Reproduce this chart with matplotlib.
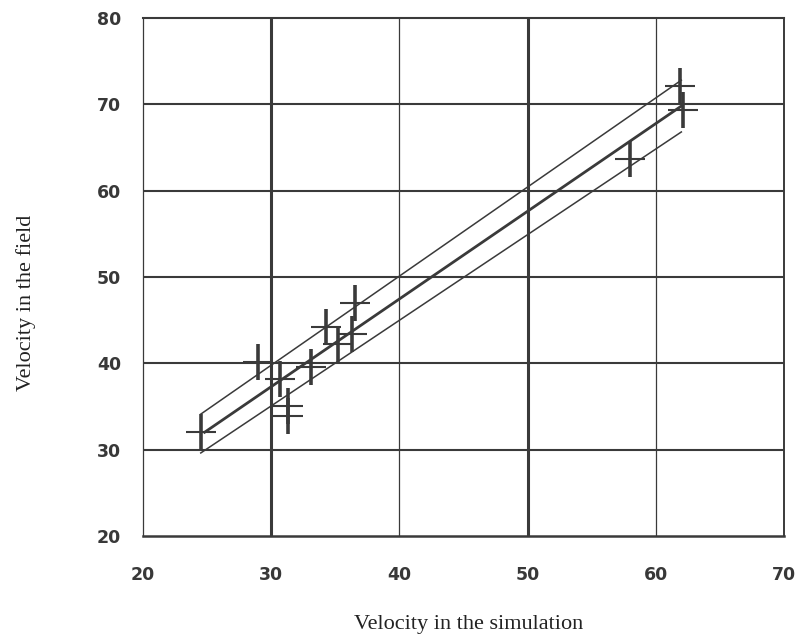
"""Field velocity vs simulated velocity, with fitted line and band."""

import matplotlib
matplotlib.use("Agg")
import matplotlib.pyplot as plt

# measured points (simulation, field)
sim_vel = [24.5, 29.0, 30.7, 31.3, 31.3, 33.1, 34.3, 35.2, 36.3, 36.5, 58.0, 61.9, 62.1]
field_vel = [32.0, 40.1, 38.2, 35.1, 33.9, 39.6, 44.2, 42.2, 43.4, 47.0, 63.7, 72.1, 69.4]

# regression line and its band (end points)
fit_x = [24.8, 62.0]
fit_y = [32.0, 69.8]
upper_x = [24.5, 62.0]
upper_y = [34.1, 72.8]
lower_x = [24.5, 62.0]
lower_y = [29.6, 66.8]

x_ticks = [20, 30, 40, 50, 60, 70]
y_ticks = [20, 30, 40, 50, 60, 70, 80]

ink = "#3a3a3a"

fig = plt.figure(figsize=(7.95, 6.44), dpi=100)
ax = fig.add_axes([0.180, 0.168, 0.806, 0.804])
ax.set_xlim(20, 70)
ax.set_ylim(20, 80)

# grid: 30 and 50 drawn heavy, the others light
for xv in [40, 60]:
    ax.axvline(xv, color=ink, lw=0.9, zorder=1)
for xv in [30, 50]:
    ax.axvline(xv, color=ink, lw=2.2, zorder=1)
for yv in [30, 40, 50, 60, 70]:
    ax.axhline(yv, color=ink, lw=1.5, zorder=1)

for side, w in [("left", 0.9), ("top", 1.5), ("right", 1.4), ("bottom", 1.8)]:
    ax.spines[side].set_color(ink)
    ax.spines[side].set_linewidth(w)

ax.plot(fit_x, fit_y, color=ink, lw=2.0, zorder=2)
ax.plot(upper_x, upper_y, color=ink, lw=1.1, zorder=2)
ax.plot(lower_x, lower_y, color=ink, lw=1.1, zorder=2)

# crosses: longer, heavier vertical arm as in the hand-drawn marks
ax.plot(sim_vel, field_vel, ls="none", marker="|", ms=26, mew=2.6, color=ink, zorder=3)
ax.plot(sim_vel, field_vel, ls="none", marker="_", ms=21, mew=1.5, color=ink, zorder=3)

ax.set_xticks(x_ticks)
ax.set_yticks(y_ticks)
ax.tick_params(length=0, labelsize=12.5, labelcolor="#383838")
ax.tick_params(axis="x", pad=22)
ax.tick_params(axis="y", pad=16)
for lab in ax.get_xticklabels() + ax.get_yticklabels():
    lab.set_fontweight("bold")
    lab.set_family("DejaVu Sans")

fig.text(0.590, 0.030, "Velocity in the simulation", ha="center", va="center",
         family="Liberation Serif", fontsize=16, color="#222222")
fig.text(0.033, 0.530, "Velocity in the field", ha="center", va="center", rotation=90,
         family="Liberation Serif", fontsize=16, color="#222222")

fig.savefig("out.png", dpi=100)
